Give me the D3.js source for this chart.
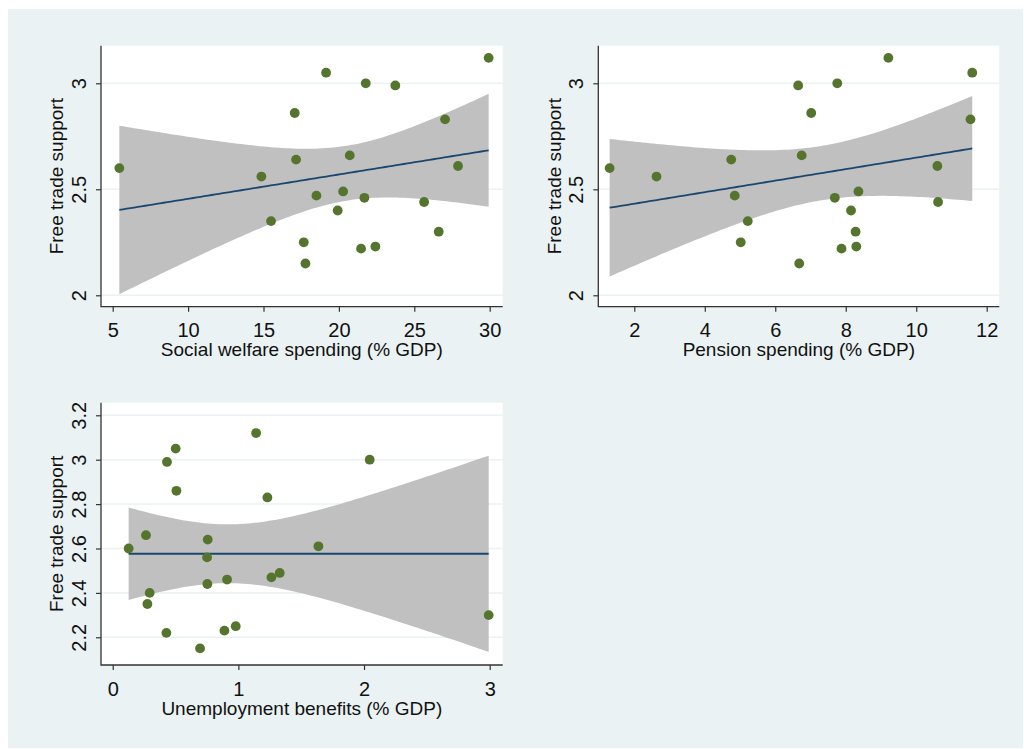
<!DOCTYPE html>
<html>
<head>
<meta charset="utf-8">
<script src="https://cdn.jsdelivr.net/npm/d3@7"></script>
<style>
  body { margin: 0; background: #fff; }
  svg { display: block; font-family: "Liberation Sans", Arial, sans-serif; }
</style>
</head>
<body>
<script>
// one value per country, same order in every array
const support      = [2.60, 2.56, 2.35, 2.86, 2.64, 2.25, 2.15, 2.47, 3.05, 2.40, 2.49, 2.66, 2.22, 2.46, 3.00, 2.23, 2.99, 2.44, 2.30, 2.83, 2.61, 3.12]
const welfare      = [5.44, 14.86, 15.50, 17.07, 17.16, 17.67, 17.78, 18.51, 19.15, 19.92, 20.28, 20.72, 21.47, 21.69, 21.78, 22.42, 23.74, 25.65, 26.62, 27.04, 27.90, 29.93]
const pension      = [1.30, 2.63, 5.22, 7.02, 4.75, 5.02, 6.68, 4.85, 11.59, 8.15, 8.36, 6.75, 7.88, 7.69, 7.76, 8.30, 6.65, 10.62, 8.28, 11.54, 10.60, 9.21]
const unemployment = [0.127, 0.751, 0.276, 0.507, 0.756, 0.979, 0.695, 1.263, 0.501, 0.294, 1.329, 0.265, 0.427, 0.910, 2.045, 0.889, 0.432, 0.753, 2.992, 1.231, 1.637, 1.141]

const xTicksWelfare = [5, 10, 15, 20, 25, 30]
const xTicksPension = [2, 4, 6, 8, 10, 12]
const xTicksUnemp   = [0, 1, 2, 3]
const yTicksTop     = [2, 2.5, 3]
const yTicksBottom  = [2.2, 2.4, 2.6, 2.8, 3, 3.2]

const xTitles = ["Social welfare spending (% GDP)", "Pension spending (% GDP)", "Unemployment benefits (% GDP)"]
const yTitle = "Free trade support"

const width = 1024
const height = 749
const fs = 19

const svg = d3.select("body").append("svg")
    .attr("width", width)
    .attr("height", height)

svg.append("rect")
    .attr("x", 8).attr("y", 9)
    .attr("width", 1015).attr("height", 739)
    .attr("fill", "#eaf2f3")

// linear fit + 95% CI of the mean (t, n-2 df)
function fitCI(xs, ys) {
  const n = xs.length
  const mx = d3.mean(xs), my = d3.mean(ys)
  const sxx = d3.sum(xs, x => (x - mx) ** 2)
  const sxy = d3.sum(xs, (x, i) => (x - mx) * (ys[i] - my))
  const b = sxy / sxx, a = my - b * mx
  const sse = d3.sum(xs, (x, i) => (ys[i] - a - b * x) ** 2)
  const s2 = sse / (n - 2)
  const t = 2.086
  const [lo, hi] = d3.extent(xs)
  return d3.range(0, 101).map(k => {
    const x = lo + (hi - lo) * k / 100
    const yhat = a + b * x
    const se = Math.sqrt(s2 * (1 / n + (x - mx) ** 2 / sxx))
    return { x, yhat, lo: yhat - t * se, hi: yhat + t * se }
  })
}

const panels = [
  { xs: welfare, xTicks: xTicksWelfare, yTicks: yTicksTop, title: xTitles[0],
    left: 101, right: 502.7, top: 45.7, bottom: 306.7,
    xDom: [5, 30], xRange: [112.7, 489.7], yDom: [2, 3], yRange: [295.3, 83.3] },
  { xs: pension, xTicks: xTicksPension, yTicks: yTicksTop, title: xTitles[1],
    left: 598.3, right: 999.3, top: 45.7, bottom: 306.7,
    xDom: [2, 12], xRange: [634.3, 986.7], yDom: [2, 3], yRange: [295.3, 83.3] },
  { xs: unemployment, xTicks: xTicksUnemp, yTicks: yTicksBottom, title: xTitles[2],
    left: 101, right: 502.7, top: 402.7, bottom: 665,
    xDom: [0, 3], xRange: [112.7, 489.7], yDom: [2.2, 3.2], yRange: [637.3, 415.3] }
]

panels.forEach(p => {
  const x = d3.scaleLinear().domain(p.xDom).range(p.xRange)
  const y = d3.scaleLinear().domain(p.yDom).range(p.yRange)
  const g = svg.append("g")

  g.append("rect")
      .attr("x", p.left).attr("y", p.top)
      .attr("width", p.right - p.left).attr("height", p.bottom - p.top)
      .attr("fill", "#fff")

  g.selectAll(".grid")
    .data(p.yTicks)
    .join("line")
      .attr("x1", p.left).attr("x2", p.right)
      .attr("y1", d => y(d)).attr("y2", d => y(d))
      .attr("stroke", "#eaf2f3")
      .attr("stroke-width", 1.5)

  const fit = fitCI(p.xs, support)

  g.append("path")
      .datum(fit)
      .attr("fill", "#c0c0c0")
      .attr("d", d3.area().x(d => x(d.x)).y0(d => y(d.lo)).y1(d => y(d.hi)))

  g.append("path")
      .datum(fit)
      .attr("fill", "none")
      .attr("stroke", "#1a476f")
      .attr("stroke-width", 1.8)
      .attr("d", d3.line().x(d => x(d.x)).y(d => y(d.yhat)))

  g.selectAll("circle")
    .data(p.xs)
    .join("circle")
      .attr("cx", d => x(d))
      .attr("cy", (d, i) => y(support[i]))
      .attr("r", 4.9)
      .attr("fill", "#55752f")

  // x axis
  const xa = g.append("g")
      .attr("transform", `translate(0,${p.bottom})`)
      .call(d3.axisBottom(x).tickValues(p.xTicks).tickSize(5).tickFormat(d3.format("~g")))
  xa.select(".domain").remove()
  xa.selectAll("line").attr("stroke", "#333").attr("stroke-width", 1.2)
  xa.selectAll("text")
      .attr("y", 16.5).attr("dy", "0.71em")
      .attr("font-size", 20).attr("font-family", null).attr("fill", "#111")

  // y axis
  const ya = g.append("g")
      .attr("transform", `translate(${p.left},0)`)
      .call(d3.axisLeft(y).tickValues(p.yTicks).tickSize(5).tickFormat(d3.format("~g")))
  ya.select(".domain").remove()
  ya.selectAll("line").attr("stroke", "#333").attr("stroke-width", 1.2)
  ya.selectAll("text")
      .attr("transform", "rotate(-90)")
      .attr("x", 0).attr("y", -15).attr("dy", 0)
      .style("text-anchor", "middle")
      .attr("font-size", 20).attr("font-family", null).attr("fill", "#111")

  g.append("path")
      .attr("d", `M${p.left},${p.top}V${p.bottom}H${p.right}`)
      .attr("fill", "none")
      .attr("stroke", "#333")
      .attr("stroke-width", 1.3)

  g.append("text")
      .attr("x", (p.left + p.right) / 2)
      .attr("y", p.bottom + 43)
      .attr("dy", "0.35em")
      .attr("text-anchor", "middle")
      .attr("font-size", fs).attr("fill", "#111")
      .text(p.title)

  g.append("text")
      .attr("transform", `translate(${p.left - 44.3},${(p.top + p.bottom) / 2}) rotate(-90)`)
      .attr("dy", "0.35em")
      .attr("text-anchor", "middle")
      .attr("font-size", fs).attr("fill", "#111")
      .text(yTitle)
})
</script>
</body>
</html>
